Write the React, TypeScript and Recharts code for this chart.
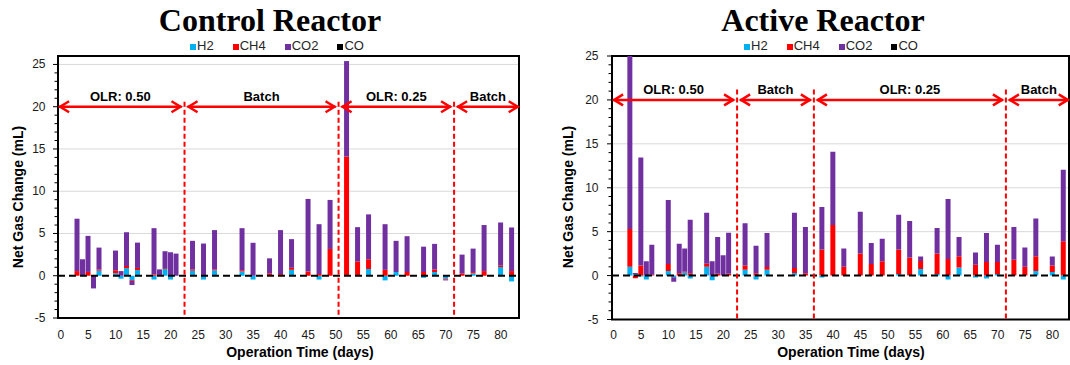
import React from 'react';
import { BarChart, Bar, XAxis, YAxis, CartesianGrid, ReferenceLine, ReferenceArea } from 'recharts';

// ---------- data ----------
const days = [3, 4, 5, 6, 7, 10, 11, 12, 13, 14, 17, 18, 19, 20, 21, 24, 26, 28, 33, 35, 38, 40, 42, 45, 47, 49, 52, 54, 56, 59, 61, 63, 66, 68, 70, 73, 75, 77, 80, 82];

const controlH2 = [0, 0, 0, 0, 0.6, 0.3, -0.35, 0.9, -0.5, 0.67, -0.45, 0, 0.8, -0.45, 0, 0.6, -0.45, 0.63, 0.5, -0.45, 0, 0, 0.7, 0, -0.45, 0, 0, 0, 0.8, -0.55, 0.44, 0, -0.25, 0.44, -0.35, 0, 0.28, 0, 1.03, -0.67];
const controlCH4 = [0.55, 0, 0.45, 0, 0.15, 0.35, 0, 0.25, -0.1, 0.25, 0.15, 0, 0.1, 0, 0, 0.15, 0, 0.12, 0.15, 0, 0.28, 0.2, 0.24, 0.5, 0.2, 3.17, 14.1, 1.7, 1.15, 0.7, 0, 0.44, 0.44, 0.3, -0.1, 0.28, 0.15, 0.55, 0.2, 0.55];
const controlCO2 = [6.2, 1.95, 4.27, -1.5, 2.58, 2.33, 0.55, 4.0, -0.5, 3.0, 5.48, 0.75, 2.0, 2.78, 2.62, 3.38, 3.81, 4.65, 4.98, 3.9, 1.78, 5.2, 3.39, 8.59, 5.9, 5.8, 11.3, 4.05, 5.31, 5.4, 3.69, 4.24, 3.0, 3.03, -0.1, 2.22, 2.78, 5.45, 5.07, 5.16];

const activeH2 = [1.0, 0.15, -0.1, -0.45, 0, 0.53, -0.2, 0, 0.34, -0.34, 1.0, -0.53, 0, 0, 0, 0.65, -0.45, 0.65, 0.3, 0, -0.23, 0, 0, 0, 0, 0, 0.19, 0.05, 0.76, 0.19, -0.45, 0.91, -0.23, -0.34, 0.19, 0, 0, 0.53, 0.42, -0.45];
const activeCH4 = [4.3, -0.3, 1.15, 0, 0.1, 0.8, 0, 0.27, 0.1, 0.27, 0.34, 0, 0.2, 0, 0.2, 0.5, 0.27, 0.34, 0.57, 0.27, 2.97, 5.75, 1.0, 2.51, 1.33, 1.64, 2.78, 2.0, 0.91, 2.32, 1.9, 1.3, 1.22, 1.56, 1.37, 1.79, 1.0, 1.68, 0.72, 3.92];
const activeCO2 = [19.7, 0.15, 12.3, 1.64, 3.4, 7.27, -0.5, 3.35, 2.65, 6.09, 5.82, 1.64, 4.18, 2.32, 4.68, 4.8, 3.12, 3.85, 6.29, 5.25, 4.85, 8.35, 2.09, 4.77, 2.37, 2.55, 3.96, 4.16, 0.5, 2.9, 6.82, 2.17, 1.41, 3.28, 1.94, 3.73, 2.2, 4.3, 1.03, 8.12];

const xTicks = [0, 5, 10, 15, 20, 25, 30, 35, 40, 45, 50, 55, 60, 65, 70, 75, 80];
const yTicks = [-5, -4, -3, -2, -1, 0, 1, 2, 3, 4, 5, 6, 7, 8, 9, 10, 11, 12, 13, 14, 15, 16, 17, 18, 19, 20, 21, 22, 23, 24, 25];
const gridValues = [5, 10, 15, 20, 25];

const phaseLabels = ['OLR: 0.50', 'Batch', 'OLR: 0.25', 'Batch'];
const controlBoundaries = [22.5, 50.5, 71.5];
const activeBoundaries = [22.5, 36.5, 71.5];
const arrowLevel = 20;

const seriesNames = ['H2', 'CH4', 'CO2', 'CO'];
const seriesColors = ['#00b0f0', '#ff0000', '#7030a0', '#000000'];

// ---------- helpers ----------
const SANS = "'Liberation Sans', Arial, sans-serif";
const SERIF = "'Liberation Serif', 'Times New Roman', serif";

const buildRows = (h2: number[], ch4: number[], co2: number[]) =>
  days.map((d, i) => ({ day: d, H2: h2[i], CH4: ch4[i], CO2: co2[i] }));

const controlData = buildRows(controlH2, controlCH4, controlCO2);
const activeData = buildRows(activeH2, activeCH4, activeCO2);

const makeYTick = (gap: number) => (p: any) => {
  const { x, y, payload } = p;
  const v = payload.value;
  const major = v % 5 === 0;
  return (
    <g>
      <line x1={x} x2={x - (major ? 5 : 3.5)} y1={y} y2={y} stroke="#000" strokeWidth={1} />
      {major && (
        <text x={x - gap} y={y} textAnchor="end" dominantBaseline="central" fontSize={12} fontFamily={SANS} fill="#1a1a1a">
          {v}
        </text>
      )}
    </g>
  );
};

const makeArrow = (label: string) => (p: any) => {
  const { x1, y1, x2, y2 } = p;
  const h = 10;
  const w = 5.5;
  const red = '#ff0000';
  return (
    <g>
      <line x1={x1} y1={y1} x2={x2} y2={y2} stroke={red} strokeWidth={2.5} />
      <polyline points={`${x1 + h},${y1 - w} ${x1 + 1},${y1} ${x1 + h},${y1 + w}`} fill="none" stroke={red} strokeWidth={2.5} />
      <polyline points={`${x2 - h},${y2 - w} ${x2 - 1},${y2} ${x2 - h},${y2 + w}`} fill="none" stroke={red} strokeWidth={2.5} />
      <text x={(x1 + x2) / 2} y={y1 - 10.5} textAnchor="middle" dominantBaseline="central" fontSize={13} fontWeight="bold" fontFamily={SANS} fill="#000">
        {label}
      </text>
    </g>
  );
};

const gridGen = (domain: number[]) => (args: any) => {
  const { yAxis, offset } = args || {};
  return gridValues.map((v) => {
    if (yAxis && typeof yAxis.scale === 'function') return yAxis.scale(v);
    return offset.top + ((domain[1] - v) / (domain[1] - domain[0])) * offset.height;
  });
};

type PanelProps = {
  data: any[];
  left: number;
  margin: { top: number; right: number; bottom: number; left: number };
  xDomain: [number, number];
  yDomain: [number, number];
  boundaries: number[];
  dashTop: number;
  yGap: number;
  xTickMargin: number;
};

const Panel = ({ data, left, margin, xDomain, yDomain, boundaries, dashTop, yGap, xTickMargin }: PanelProps) => {
  const gap = 0.55;
  const segs = phaseLabels.map((label, i) => {
    const s = i === 0 ? xDomain[0] + 0.2 : boundaries[i - 1] + gap;
    const e = i === phaseLabels.length - 1 ? xDomain[1] - 0.05 : boundaries[i] - gap;
    return { label, s, e };
  });
  return (
    <div style={{ position: 'absolute', left, top: 0 }}>
      <BarChart width={535} height={365} data={data} margin={margin} stackOffset="sign" barSize={5}>
        <CartesianGrid vertical={false} horizontal stroke="#d9d9d9" strokeWidth={1} horizontalCoordinatesGenerator={gridGen(yDomain)} />
        <XAxis
          dataKey="day"
          type="number"
          domain={xDomain}
          allowDataOverflow
          ticks={xTicks}
          interval={0}
          height={20}
          axisLine={false}
          tickLine={false}
          tickSize={0}
          tickMargin={xTickMargin}
          tick={{ fontSize: 12, fontFamily: SANS, fill: '#1a1a1a' }}
        />
        <YAxis
          type="number"
          domain={yDomain}
          allowDataOverflow
          ticks={yTicks}
          interval={0}
          width={30}
          axisLine={false}
          tickLine={false}
          tickSize={0}
          tickMargin={0}
          tick={makeYTick(yGap)}
        />
        <Bar dataKey="H2" stackId="a" fill={seriesColors[0]} isAnimationActive={false} />
        <Bar dataKey="CH4" stackId="a" fill={seriesColors[1]} isAnimationActive={false} />
        <Bar dataKey="CO2" stackId="a" fill={seriesColors[2]} isAnimationActive={false} />
        <ReferenceLine y={0} stroke="#000" strokeWidth={2} strokeDasharray="7 4" />
        {boundaries.map((b) => (
          <ReferenceLine
            key={'b' + b}
            segment={[{ x: b, y: dashTop }, { x: b, y: yDomain[0] }]}
            stroke="#ff0000"
            strokeWidth={2}
            strokeDasharray="5 3"
            ifOverflow="visible"
          />
        ))}
        {segs.map((sg, i) => (
          <ReferenceLine
            key={'a' + i}
            segment={[{ x: sg.s, y: arrowLevel }, { x: sg.e, y: arrowLevel }]}
            ifOverflow="visible"
            shape={makeArrow(sg.label)}
          />
        ))}
        <ReferenceArea x1={xDomain[0]} x2={xDomain[1]} y1={yDomain[0]} y2={yDomain[1]} fill="#fff" fillOpacity={0} stroke="#000" strokeWidth={2} ifOverflow="visible" />
      </BarChart>
    </div>
  );
};

const Legend = ({ left }: { left: number }) => (
  <div style={{ position: 'absolute', left, top: 38, height: 16, display: 'flex', alignItems: 'center', fontFamily: SANS, fontSize: 13, color: '#262626', whiteSpace: 'nowrap' }}>
    {seriesNames.map((n, i) => (
      <div key={n} style={{ display: 'flex', alignItems: 'center', marginRight: i < seriesNames.length - 1 ? 19 : 0 }}>
        <div style={{ width: 6, height: 6, background: seriesColors[i], marginRight: 1, marginTop: 2 }} />
        <span style={{ lineHeight: '16px' }}>{n}</span>
      </div>
    ))}
  </div>
);

const Title = ({ text, center }: { text: string; center: number }) => (
  <div style={{ position: 'absolute', left: center - 200, width: 400, top: 4, textAlign: 'center', fontFamily: SERIF, fontWeight: 'bold', fontSize: 32, lineHeight: '32px', color: '#000' }}>
    {text}
  </div>
);

const YTitle = ({ cx, cy }: { cx: number; cy: number }) => (
  <div style={{ position: 'absolute', left: cx - 100, top: cy - 9, width: 200, height: 18, textAlign: 'center', fontFamily: SANS, fontWeight: 'bold', fontSize: 14, lineHeight: '18px', transform: 'rotate(-90deg)', color: '#000' }}>
    Net Gas Change (mL)
  </div>
);

const XTitle = ({ cx }: { cx: number }) => (
  <div style={{ position: 'absolute', left: cx - 120, top: 343, width: 240, height: 18, textAlign: 'center', fontFamily: SANS, fontWeight: 'bold', fontSize: 14, lineHeight: '18px', color: '#000' }}>
    Operation Time (days)
  </div>
);

export default function App() {
  return (
    <div style={{ position: 'absolute', left: 0, top: 0, width: 1070, height: 365, background: '#fff', overflow: 'hidden' }}>
      <Panel
        data={controlData}
        left={0}
        margin={{ top: 56, right: 16, bottom: 27, left: 28 }}
        xDomain={[-0.5, 83.3]}
        yDomain={[-5, 26]}
        boundaries={controlBoundaries}
        dashTop={20.6}
        yGap={12.5}
        xTickMargin={12}
      />
      <Panel
        data={activeData}
        left={535}
        margin={{ top: 56, right: 1, bottom: 25.5, left: 47 }}
        xDomain={[-0.3, 83]}
        yDomain={[-5, 25]}
        boundaries={activeBoundaries}
        dashTop={21.2}
        yGap={13.5}
        xTickMargin={11}
      />
      <Title text="Control Reactor" center={270} />
      <Title text="Active Reactor" center={823} />
      <Legend left={190} />
      <Legend left={744} />
      <YTitle cx={18} cy={197} />
      <YTitle cx={568} cy={197} />
      <XTitle cx={300} />
      <XTitle cx={851} />
    </div>
  );
}
